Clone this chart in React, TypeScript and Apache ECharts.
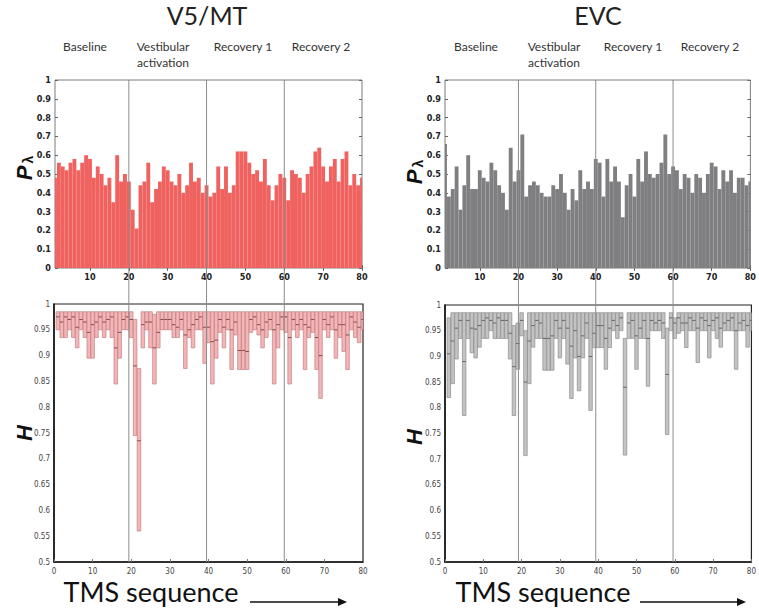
import React, { useEffect, useRef } from "react";
import * as echarts from "echarts";

// TMS sequence positions (1..80)
const seq: number[] = Array.from({ length: 80 }, (_, i) => i + 1);
const topTicks = [10, 20, 30, 40, 50, 60, 70, 80];
const phaseBounds = [20, 40, 60];
const phases = ["Baseline", "Vestibular\nactivation", "Recovery 1", "Recovery 2"];

// P_lambda values
const pV5 = [
  0.48, 0.56, 0.54, 0.52, 0.56, 0.58, 0.52, 0.56, 0.6, 0.58,
  0.48, 0.54, 0.5, 0.44, 0.48, 0.35, 0.6, 0.46, 0.5, 0.46,
  0.31, 0.21, 0.44, 0.46, 0.56, 0.35, 0.42, 0.46, 0.54, 0.52,
  0.46, 0.44, 0.5, 0.4, 0.44, 0.56, 0.46, 0.48, 0.4, 0.44,
  0.38, 0.4, 0.54, 0.42, 0.54, 0.4, 0.44, 0.62, 0.62, 0.62,
  0.56, 0.5, 0.52, 0.46, 0.58, 0.44, 0.36, 0.44, 0.5, 0.48,
  0.36, 0.52, 0.5, 0.48, 0.4, 0.5, 0.54, 0.62, 0.64, 0.54,
  0.46, 0.54, 0.58, 0.46, 0.58, 0.62, 0.44, 0.5, 0.44, 0.48,
];
const pEVC = [
  0.66, 0.38, 0.42, 0.54, 0.31, 0.44, 0.6, 0.42, 0.42, 0.52,
  0.48, 0.46, 0.56, 0.52, 0.44, 0.4, 0.31, 0.64, 0.46, 0.52,
  0.71, 0.38, 0.44, 0.46, 0.44, 0.4, 0.38, 0.38, 0.44, 0.42,
  0.5, 0.4, 0.31, 0.42, 0.36, 0.52, 0.42, 0.46, 0.42, 0.58,
  0.56, 0.38, 0.58, 0.46, 0.54, 0.46, 0.27, 0.44, 0.5, 0.38,
  0.58, 0.46, 0.62, 0.5, 0.48, 0.5, 0.56, 0.71, 0.5, 0.54,
  0.52, 0.42, 0.5, 0.48, 0.4, 0.5, 0.48, 0.4, 0.5, 0.56,
  0.54, 0.42, 0.52, 0.46, 0.52, 0.4, 0.48, 0.48, 0.44, 0.46,
];

// H box values: upper edge, median, lower edge
const hiV5 = [
  0.985, 0.985, 0.985, 0.985, 0.985, 0.985, 0.985, 0.985, 0.985, 0.985,
  0.985, 0.985, 0.985, 0.985, 0.985, 0.985, 0.985, 0.985, 0.985, 0.985,
  0.97, 0.875, 0.985, 0.985, 0.985, 0.98, 0.985, 0.985, 0.985, 0.985,
  0.985, 0.985, 0.985, 0.985, 0.985, 0.985, 0.985, 0.985, 0.985, 0.985,
  0.985, 0.985, 0.985, 0.985, 0.985, 0.985, 0.985, 0.985, 0.985, 0.985,
  0.985, 0.985, 0.985, 0.985, 0.985, 0.985, 0.985, 0.985, 0.985, 0.985,
  0.985, 0.985, 0.985, 0.985, 0.985, 0.985, 0.985, 0.985, 0.985, 0.985,
  0.985, 0.985, 0.985, 0.985, 0.985, 0.985, 0.985, 0.985, 0.985, 0.985,
];
const medV5 = [
  0.975, 0.965, 0.975, 0.97, 0.975, 0.955, 0.97, 0.965, 0.945, 0.96,
  0.965, 0.975, 0.965, 0.97, 0.975, 0.915, 0.945, 0.97, 0.975, 0.97,
  0.88, 0.735, 0.96, 0.965, 0.965, 0.915, 0.945, 0.97, 0.97, 0.97,
  0.96, 0.955, 0.97, 0.94, 0.95, 0.96, 0.97, 0.975, 0.955, 0.955,
  0.927, 0.93, 0.97, 0.955, 0.97, 0.95, 0.965, 0.91, 0.91, 0.908,
  0.97, 0.975, 0.96, 0.95, 0.965, 0.97, 0.95, 0.96, 0.975, 0.975,
  0.935, 0.97, 0.96, 0.97, 0.96, 0.955, 0.97, 0.935, 0.9, 0.97,
  0.96, 0.975, 0.95, 0.96, 0.96, 0.94, 0.975, 0.965, 0.955, 0.97,
];
const loV5 = [
  0.95, 0.935, 0.935, 0.95, 0.935, 0.915, 0.95, 0.935, 0.895, 0.895,
  0.935, 0.95, 0.935, 0.95, 0.935, 0.845, 0.895, 0.95, 0.95, 0.935,
  0.745, 0.56, 0.915, 0.95, 0.915, 0.845, 0.915, 0.95, 0.95, 0.95,
  0.935, 0.935, 0.95, 0.875, 0.935, 0.915, 0.95, 0.95, 0.885, 0.925,
  0.845, 0.895, 0.945, 0.915, 0.95, 0.873, 0.94, 0.873, 0.873, 0.873,
  0.945, 0.95, 0.94, 0.915, 0.935, 0.95, 0.845, 0.915, 0.95, 0.945,
  0.845, 0.95, 0.935, 0.95, 0.873, 0.935, 0.945, 0.873, 0.817, 0.95,
  0.935, 0.95, 0.895, 0.935, 0.908, 0.873, 0.95, 0.935, 0.925, 0.95,
];

const hiEVC = [
  0.975, 0.985, 0.985, 0.985, 0.985, 0.985, 0.985, 0.985, 0.985, 0.985,
  0.985, 0.985, 0.985, 0.985, 0.985, 0.985, 0.985, 0.96, 0.965, 0.985,
  0.95, 0.985, 0.985, 0.985, 0.985, 0.985, 0.985, 0.985, 0.985, 0.985,
  0.985, 0.985, 0.985, 0.985, 0.985, 0.985, 0.985, 0.985, 0.985, 0.985,
  0.985, 0.985, 0.985, 0.985, 0.985, 0.985, 0.935, 0.985, 0.985, 0.985,
  0.985, 0.985, 0.985, 0.985, 0.985, 0.985, 0.985, 0.955, 0.985, 0.975,
  0.985, 0.985, 0.985, 0.985, 0.985, 0.985, 0.985, 0.985, 0.985, 0.985,
  0.985, 0.985, 0.985, 0.985, 0.985, 0.985, 0.985, 0.985, 0.985, 0.985,
];
const medEVC = [
  0.905, 0.93, 0.955, 0.97, 0.89, 0.97, 0.955, 0.953, 0.96, 0.97,
  0.975, 0.97, 0.965, 0.975, 0.97, 0.97, 0.945, 0.88, 0.925, 0.97,
  0.85, 0.93, 0.96, 0.97, 0.965, 0.935, 0.935, 0.94, 0.97, 0.955,
  0.97, 0.955, 0.92, 0.95, 0.9, 0.94, 0.965, 0.9, 0.945, 0.96,
  0.96, 0.935, 0.955, 0.97, 0.96, 0.975, 0.84, 0.965, 0.97, 0.94,
  0.955, 0.97, 0.935, 0.97, 0.965, 0.97, 0.965, 0.865, 0.975, 0.965,
  0.975, 0.965, 0.965, 0.975, 0.97, 0.955, 0.975, 0.97, 0.96, 0.97,
  0.975, 0.955, 0.965, 0.97, 0.975, 0.95, 0.965, 0.97, 0.96, 0.97,
];
const loEVC = [
  0.82, 0.847, 0.895, 0.935, 0.785, 0.935, 0.907, 0.897, 0.918, 0.935,
  0.935, 0.95, 0.935, 0.935, 0.935, 0.935, 0.895, 0.785, 0.875, 0.94,
  0.707, 0.847, 0.918, 0.935, 0.935, 0.873, 0.873, 0.873, 0.935, 0.897,
  0.935, 0.885, 0.818, 0.897, 0.833, 0.897, 0.935, 0.795, 0.917, 0.917,
  0.917, 0.875, 0.917, 0.95, 0.935, 0.95, 0.708, 0.935, 0.935, 0.875,
  0.935, 0.935, 0.842, 0.95, 0.95, 0.95, 0.935, 0.748, 0.95, 0.935,
  0.945, 0.95, 0.917, 0.95, 0.95, 0.888, 0.95, 0.95, 0.897, 0.95,
  0.935, 0.918, 0.95, 0.95, 0.95, 0.875, 0.95, 0.95, 0.918, 0.95,
];

const NARROW = "'Liberation Sans Narrow', 'DejaVu Sans Condensed', Arial, sans-serif";
const TITLE_FONT = "Lato, 'Open Sans', sans-serif";

function clipTo(rect: any, cs: any) {
  return echarts.graphic.clipRectByRect(rect, {
    x: cs.x,
    y: cs.y,
    width: cs.width,
    height: cs.height,
  });
}

function barRender(color: string) {
  return (params: any, api: any) => {
    const x = api.value(0);
    const y = api.value(1);
    const p0 = api.coord([x - 0.5, 0]);
    const p1 = api.coord([x + 0.5, y]);
    const shape = clipTo(
      { x: p0[0], y: p1[1], width: p1[0] - p0[0], height: p0[1] - p1[1] },
      params.coordSys
    );
    if (!shape) return null;
    return { type: "rect", shape, style: { fill: color } };
  };
}

function boxRender(fill: string, stroke: string, med: string) {
  return (params: any, api: any) => {
    const x = api.value(0);
    const lo = api.value(1);
    const md = api.value(2);
    const hi = api.value(3);
    const a = api.coord([x - 0.46, hi]);
    const b = api.coord([x + 0.46, lo]);
    const m = api.coord([x, md]);
    const cs = params.coordSys;
    const shape = clipTo({ x: a[0], y: a[1], width: b[0] - a[0], height: b[1] - a[1] }, cs);
    if (!shape) return null;
    return {
      type: "group",
      children: [
        { type: "rect", shape, style: { fill, stroke, lineWidth: 0.7 } },
        {
          type: "line",
          shape: { x1: shape.x, y1: m[1], x2: shape.x + shape.width, y2: m[1] },
          style: { stroke: med, lineWidth: 0.9 },
        },
      ],
    };
  };
}

const topGridX = (gi: number) => ({
  gridIndex: gi,
  type: "value",
  min: 1,
  max: 80,
  axisLine: { show: false },
  axisTick: { show: true, inside: true, length: 3, customValues: topTicks, lineStyle: { color: "#666" } },
  axisLabel: {
    customValues: topTicks,
    fontFamily: NARROW,
    fontWeight: "bold",
    fontSize: 9,
    color: "#222",
    margin: 4,
  },
  splitLine: { show: false },
});
const topGridXMirror = (gi: number) => ({
  gridIndex: gi,
  type: "value",
  position: "top",
  min: 1,
  max: 80,
  axisLine: { show: false },
  axisTick: { show: true, inside: true, length: 3, customValues: topTicks, lineStyle: { color: "#666" } },
  axisLabel: { show: false },
  splitLine: { show: false },
});
const topGridY = (gi: number, pos: string) => ({
  gridIndex: gi,
  type: "value",
  position: pos,
  min: 0,
  max: 1,
  interval: 0.1,
  axisLine: { show: false },
  axisTick: { show: true, inside: true, length: 3, lineStyle: { color: "#666" } },
  axisLabel: {
    show: pos === "left",
    fontFamily: NARROW,
    fontWeight: "bold",
    fontSize: 9,
    color: "#222",
    margin: 4,
  },
  splitLine: { show: false },
});
const botGridX = (gi: number) => ({
  gridIndex: gi,
  type: "value",
  min: 0,
  max: 80,
  interval: 10,
  axisLine: { show: true, lineStyle: { color: "#111", width: 1.5 } },
  axisTick: { show: true, inside: true, length: 3, lineStyle: { color: "#777" } },
  axisLabel: { fontFamily: NARROW, fontSize: 8, color: "#444", margin: 5 },
  splitLine: { show: false },
});
const botGridY = (gi: number) => ({
  gridIndex: gi,
  type: "value",
  min: 0.5,
  max: 1,
  interval: 0.05,
  axisLine: { show: true, lineStyle: { color: "#111", width: 1.5 } },
  axisTick: { show: false },
  axisLabel: { fontFamily: NARROW, fontSize: 8, color: "#444", margin: 4 },
  splitLine: { show: false },
});

export default function App() {
  const ref = useRef<HTMLDivElement>(null);

  useEffect(() => {
    document.body.style.margin = "0";
    if (!ref.current) return;
    const chart = echarts.init(ref.current, undefined, { renderer: "svg" });

    const option: any = {
      animation: false,
      backgroundColor: "#ffffff",
      grid: [
        { left: 55, top: 80, width: 307, height: 188, show: true, borderColor: "#7a7a7a", borderWidth: 1, backgroundColor: "transparent" },
        { left: 445, top: 80, width: 308, height: 188, show: true, borderColor: "#7a7a7a", borderWidth: 1, backgroundColor: "transparent" },
        { left: 54, top: 304, width: 309, height: 258, show: true, borderColor: "#222", borderWidth: 1.2, backgroundColor: "transparent" },
        { left: 445, top: 305, width: 310, height: 257, show: true, borderColor: "#222", borderWidth: 1.2, backgroundColor: "transparent" },
      ],
      xAxis: [topGridX(0), topGridX(1), botGridX(2), botGridX(3), topGridXMirror(0), topGridXMirror(1)],
      yAxis: [topGridY(0, "left"), topGridY(1, "left"), botGridY(2), botGridY(3), topGridY(0, "right"), topGridY(1, "right")],
      series: [
        {
          type: "custom",
          name: "V5/MT P",
          xAxisIndex: 0,
          yAxisIndex: 0,
          renderItem: barRender("#f0625f"),
          encode: { x: 0, y: 1 },
          data: seq.map((s, i) => [s, pV5[i]]),
        },
        {
          type: "custom",
          name: "EVC P",
          xAxisIndex: 1,
          yAxisIndex: 1,
          renderItem: barRender("#7f7f82"),
          encode: { x: 0, y: 1 },
          data: seq.map((s, i) => [s, pEVC[i]]),
        },
        {
          type: "custom",
          name: "V5/MT H",
          xAxisIndex: 2,
          yAxisIndex: 2,
          renderItem: boxRender("#f5b5b7", "#c07f82", "#7a3f42"),
          encode: { x: 0, y: [1, 2, 3] },
          data: seq.map((s, i) => [s, loV5[i], medV5[i], hiV5[i]]),
        },
        {
          type: "custom",
          name: "EVC H",
          xAxisIndex: 3,
          yAxisIndex: 3,
          renderItem: boxRender("#c3c3c3", "#8d8d8d", "#5a5a5a"),
          encode: { x: 0, y: [1, 2, 3] },
          data: seq.map((s, i) => [s, loEVC[i], medEVC[i], hiEVC[i]]),
        },
      ],
    };
    chart.setOption(option);

    // Phase separator lines spanning both panels, placed through the axes' scales
    const lines: any[] = [];
    [0, 1].forEach((col) => {
      const yTop = chart.convertToPixel({ yAxisIndex: col }, 1) as number;
      const yBot = chart.convertToPixel({ yAxisIndex: col + 2 }, 0.5) as number;
      phaseBounds.forEach((b) => {
        const px = chart.convertToPixel({ xAxisIndex: col }, b) as number;
        lines.push({
          type: "line",
          z: 100,
          silent: true,
          shape: { x1: px, y1: yTop, x2: px, y2: yBot },
          style: { stroke: "#8c8c8c", lineWidth: 1 },
        });
      });
    });

    const phaseCentersL = [85, 163, 243, 321];
    const phaseCentersR = [476, 554, 633, 710];
    const texts: any[] = [];
    const txt = (x: number, y: number, text: string, style: any) => ({
      type: "text",
      x,
      y,
      z: 110,
      style: { text, align: "center", verticalAlign: "middle", fill: "#222", ...style },
    });
    texts.push(txt(207, 15, "V5/MT", { fontFamily: TITLE_FONT, fontSize: 25 }));
    texts.push(txt(598, 15, "EVC", { fontFamily: TITLE_FONT, fontSize: 25 }));
    phases.forEach((p, i) => {
      texts.push({
        type: "text",
        x: phaseCentersL[i],
        y: 38,
        z: 110,
        style: { text: p, align: "center", verticalAlign: "top", fill: "#333", fontFamily: TITLE_FONT, fontSize: 12, lineHeight: 16 },
      });
      texts.push({
        type: "text",
        x: phaseCentersR[i],
        y: 38,
        z: 110,
        style: { text: p, align: "center", verticalAlign: "top", fill: "#333", fontFamily: TITLE_FONT, fontSize: 12, lineHeight: 16 },
      });
    });
    const yName = (x: number, y: number, text: string) => ({
      type: "text",
      x,
      y,
      z: 110,
      rotation: Math.PI / 2,
      style: {
        text,
        align: "center",
        verticalAlign: "middle",
        rich: {
          p: { fontFamily: "Liberation Sans, Arial, sans-serif", fontSize: 22, fontWeight: "bold", fontStyle: "italic", fill: "#111" },
          l: { fontFamily: "Liberation Sans, Arial, sans-serif", fontSize: 14, fontWeight: "bold", fill: "#111", padding: [8, 0, 0, 2] },
        },
      },
    });
    texts.push(yName(24, 168, "{p|P}{l|λ}"));
    texts.push(yName(414, 172, "{p|P}{l|λ}"));
    texts.push(yName(24, 433, "{p|H}"));
    texts.push(yName(414, 437, "{p|H}"));
    texts.push(txt(151, 591, "TMS sequence", { fontFamily: TITLE_FONT, fontSize: 27, fill: "#111" }));
    texts.push(txt(543, 591, "TMS sequence", { fontFamily: TITLE_FONT, fontSize: 27, fill: "#111" }));
    const arrow = (x1: number, x2: number, y: number) => [
      { type: "line", z: 110, shape: { x1, y1: y, x2: x2 - 8, y2: y }, style: { stroke: "#111", lineWidth: 1.5 } },
      { type: "polygon", z: 110, shape: { points: [[x2 - 9, y - 4], [x2, y], [x2 - 9, y + 4]] }, style: { fill: "#111" } },
    ];
    texts.push(...arrow(250, 347, 602));
    texts.push(...arrow(640, 746, 602));

    chart.setOption({ graphic: [...lines, ...texts] });

    return () => chart.dispose();
  }, []);

  return <div ref={ref} style={{ width: 759, height: 610 }} />;
}
